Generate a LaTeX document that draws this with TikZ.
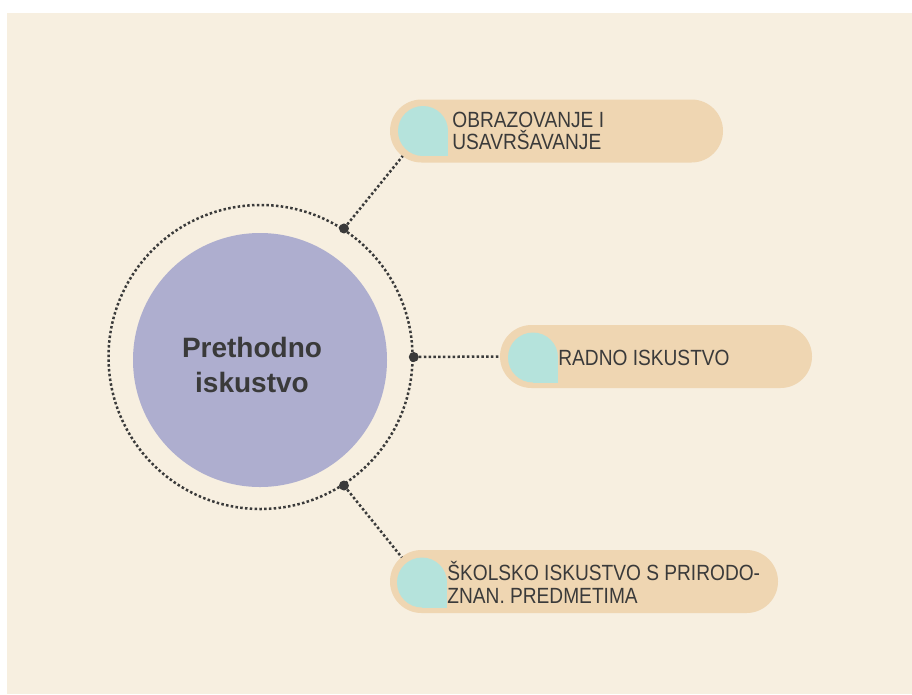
\documentclass[tikz,border=0pt]{standalone}
\usepackage{fontspec}
\setmainfont{Liberation Sans}
\newfontfamily\pillfont{Liberation Sans}[FakeStretch=0.87]
\usetikzlibrary{positioning}
\definecolor{cream}{HTML}{F7EFE0}
\definecolor{sand}{HTML}{EFD6B2}
\definecolor{mint}{HTML}{B5E3DC}
\definecolor{lilac}{HTML}{AEAECF}
\definecolor{ink}{HTML}{3A3A3A}
\tikzset{
  pill/.style={fill=sand, rounded corners=31.5pt, minimum height=63pt, inner sep=0pt},
  badge/.style={circle, fill=mint, minimum size=50pt, inner sep=0pt},
  item/.style={inner sep=0pt, align=left, font=\pillfont\fontsize{22}{22.5}\selectfont, text=ink},
  dotline/.style={draw=ink, line width=2.5pt, dash pattern=on 2.5pt off 2.3pt},
  joint/.style={circle, fill=ink, minimum size=10pt, inner sep=0pt}
}
\begin{document}
\begin{tikzpicture}[x=1pt,y=-1pt]
  \useasboundingbox (0,0) rectangle (912,694);
  \fill[cream] (7,13) rectangle (912,694);
  \node[circle, fill=lilac, minimum size=254pt, inner sep=0pt] (core) at (260,360) {};
  \node[align=center, inner sep=0pt, font=\bfseries\fontsize{28}{35}\selectfont, text=ink]
    (title) at (252,365) {Prethodno\\iskustvo};
  \node[circle, dotline, minimum size=304pt, inner sep=0pt] (ring) at (260.5,357) {};
  \node[joint] (j1) at (ring.57) {};
  \node[joint] (j2) at (ring.0) {};
  \node[joint] (j3) at (ring.-57) {};

  \node[pill, minimum width=333pt] (obraz) at (556.5,131) {};
  \node[pill, minimum width=312pt] (radno) at (656,356.5) {};
  \node[pill, minimum width=388pt] (skola) at (584,581.5) {};

  \node[badge] (b1) at (423,131) {};
  \node[badge] (b2) at (533,357.5) {};
  \node[badge] (b3) at (422,582.5) {};
  \foreach \b in {b1,b2,b3}
    \fill[mint] (\b.center) rectangle (\b.east |- \b.south);

  \node[item, right=4pt of b1] {OBRAZOVANJE I\\USAVRŠAVANJE};
  \node[item, right=0pt of b2] {RADNO ISKUSTVO};
  \node[item, right=0pt of b3] {ŠKOLSKO ISKUSTVO S PRIRODO-\\ZNAN. PREDMETIMA};

  \draw[dotline, shorten >=7pt] (j1) -- (b1);
  \draw[dotline] (j2) -- (radno.west);
  \draw[dotline, shorten >=7pt] (j3) -- (b3);
\end{tikzpicture}
\end{document}
